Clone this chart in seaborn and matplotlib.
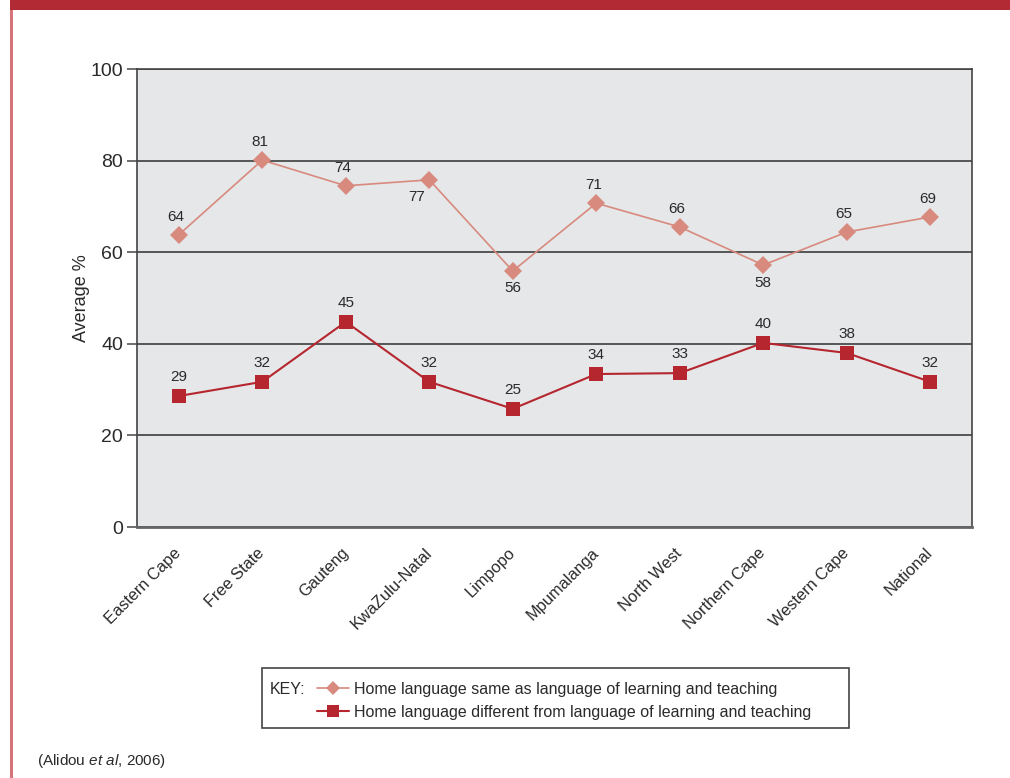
import matplotlib
matplotlib.use("Agg")
import matplotlib.pyplot as plt
from matplotlib.patches import Rectangle
from matplotlib.ticker import FixedLocator
import numpy as np
import pandas as pd
import seaborn as sns

regions = ["Eastern Cape", "Free State", "Gauteng", "KwaZulu-Natal", "Limpopo",
           "Mpumalanga", "North West", "Northern Cape", "Western Cape", "National"]
same_values = [63.8, 80.1, 74.5, 75.8, 55.9, 70.7, 65.5, 57.2, 64.4, 67.7]
same_labels = ["64", "81", "74", "77", "56", "71", "66", "58", "65", "69"]
diff_values = [28.6, 31.7, 44.8, 31.7, 25.8, 33.4, 33.6, 40.2, 38.0, 31.7]
diff_labels = ["29", "32", "45", "32", "25", "34", "33", "40", "38", "32"]
series_names = ["Home language same as language of learning and teaching",
                "Home language different from language of learning and teaching"]
y_ticks = [0, 20, 40, 60, 80, 100]

sns.set_theme(style="white")
plt.rcParams["font.family"] = ["Liberation Sans", "DejaVu Sans"]
plt.rcParams["mathtext.fontset"] = "custom"
plt.rcParams["mathtext.rm"] = "Liberation Sans"
plt.rcParams["mathtext.it"] = "Liberation Sans:italic"

PINK = "#D88A7E"
RED = "#B5262F"
TXT = "#2a2a2a"

fig = plt.figure(figsize=(10.10, 7.78), dpi=100)
ax = fig.add_axes([137/1010, 1-527/778, 835/1010, 458/778])
ax.set_facecolor("#E6E7E9")

df_same = pd.DataFrame({"region": regions, "value": same_values})
df_diff = pd.DataFrame({"region": regions, "value": diff_values})

sns.lineplot(data=df_same, x="region", y="value", ax=ax, sort=False, color=PINK,
             linewidth=1.2, marker="D", markersize=9, markeredgewidth=0,
             label=series_names[0], zorder=4)
sns.lineplot(data=df_diff, x="region", y="value", ax=ax, sort=False, color=RED,
             linewidth=1.5, marker="s", markersize=10.2, markeredgewidth=0,
             label=series_names[1], zorder=4)

# data labels
below = {"KwaZulu-Natal": (-9, -12), "Limpopo": (0, -12), "Northern Cape": (0, -13)}
for i, (r, v, lab) in enumerate(zip(regions, same_values, same_labels)):
    off = below.get(r, (-2, 13))
    ax.annotate(lab, (i, v), xytext=off, textcoords="offset points",
                ha="center", va="center", fontsize=11, color=TXT, zorder=5)
for i, (r, v, lab) in enumerate(zip(regions, diff_values, diff_labels)):
    ax.annotate(lab, (i, v), xytext=(0, 13.5), textcoords="offset points",
                ha="center", va="center", fontsize=11, color=TXT, zorder=5)

ax.set_xlim(-0.5, len(regions) - 0.5)
ax.set_ylim(0, 100)
ax.set_yticks(y_ticks)
ax.set_yticklabels([str(t) for t in y_ticks], fontsize=14, color=TXT)
ax.set_xticks(range(len(regions)))
ax.set_xticklabels(regions, rotation=45, ha="right", va="center",
                   rotation_mode="anchor", fontsize=11.8, color=TXT)
ax.xaxis.set_minor_locator(FixedLocator(np.arange(-0.5, len(regions), 1.0)))
ax.tick_params(axis="x", which="major", length=0, pad=17)
ax.tick_params(axis="x", which="minor", length=6, width=1.5, color="#555", direction="out")
ax.tick_params(axis="y", length=7, width=1.2, color="#555", direction="out", pad=3, left=True)
ax.set_xlabel("")
ax.set_ylabel("Average %", fontsize=13, color=TXT, labelpad=0)

ax.yaxis.grid(True, color="#2e2e2e", linewidth=1.1)
ax.xaxis.grid(False)
ax.set_axisbelow(True)
for side in ["left", "right", "top"]:
    ax.spines[side].set_visible(True)
    ax.spines[side].set_color("#444")
    ax.spines[side].set_linewidth(1.2)
ax.spines["bottom"].set_color("#666")
ax.spines["bottom"].set_linewidth(2)

# legend
handles, labels = ax.get_legend_handles_labels()
ax.get_legend().remove()
fig.legend(handles, labels, loc="upper left",
           bbox_to_anchor=(317/1010, 1-682/778), frameon=False, fontsize=11.5,
           handlelength=2.0, handletextpad=0.3, labelspacing=0.5, markerscale=0.8,
           borderaxespad=0, borderpad=0, labelcolor=TXT)
fig.patches.append(Rectangle((262/1010, 1-728/778), 587/1010, 60/778,
                             transform=fig.transFigure, fill=False,
                             edgecolor="#444", linewidth=1.2))
fig.text(270/1010, 1-689/778, "KEY:", fontsize=11.5, color=TXT, va="center", ha="left")

# citation
fig.text(37/1010, 1-761/778, r"(Alidou $\mathit{et\ al}$, 2006)", fontsize=11,
         color=TXT, va="center", ha="left")

# decorative border
fig.patches.append(Rectangle((10/1010, 1-10/778), 1000/1010, 10/778,
                             transform=fig.transFigure, color="#B22A33", linewidth=0))
fig.patches.append(Rectangle((10/1010, 0), 3/1010, 1-10/778,
                             transform=fig.transFigure, color="#D8737B", linewidth=0))

fig.savefig("out.png", dpi=100, facecolor="white")
